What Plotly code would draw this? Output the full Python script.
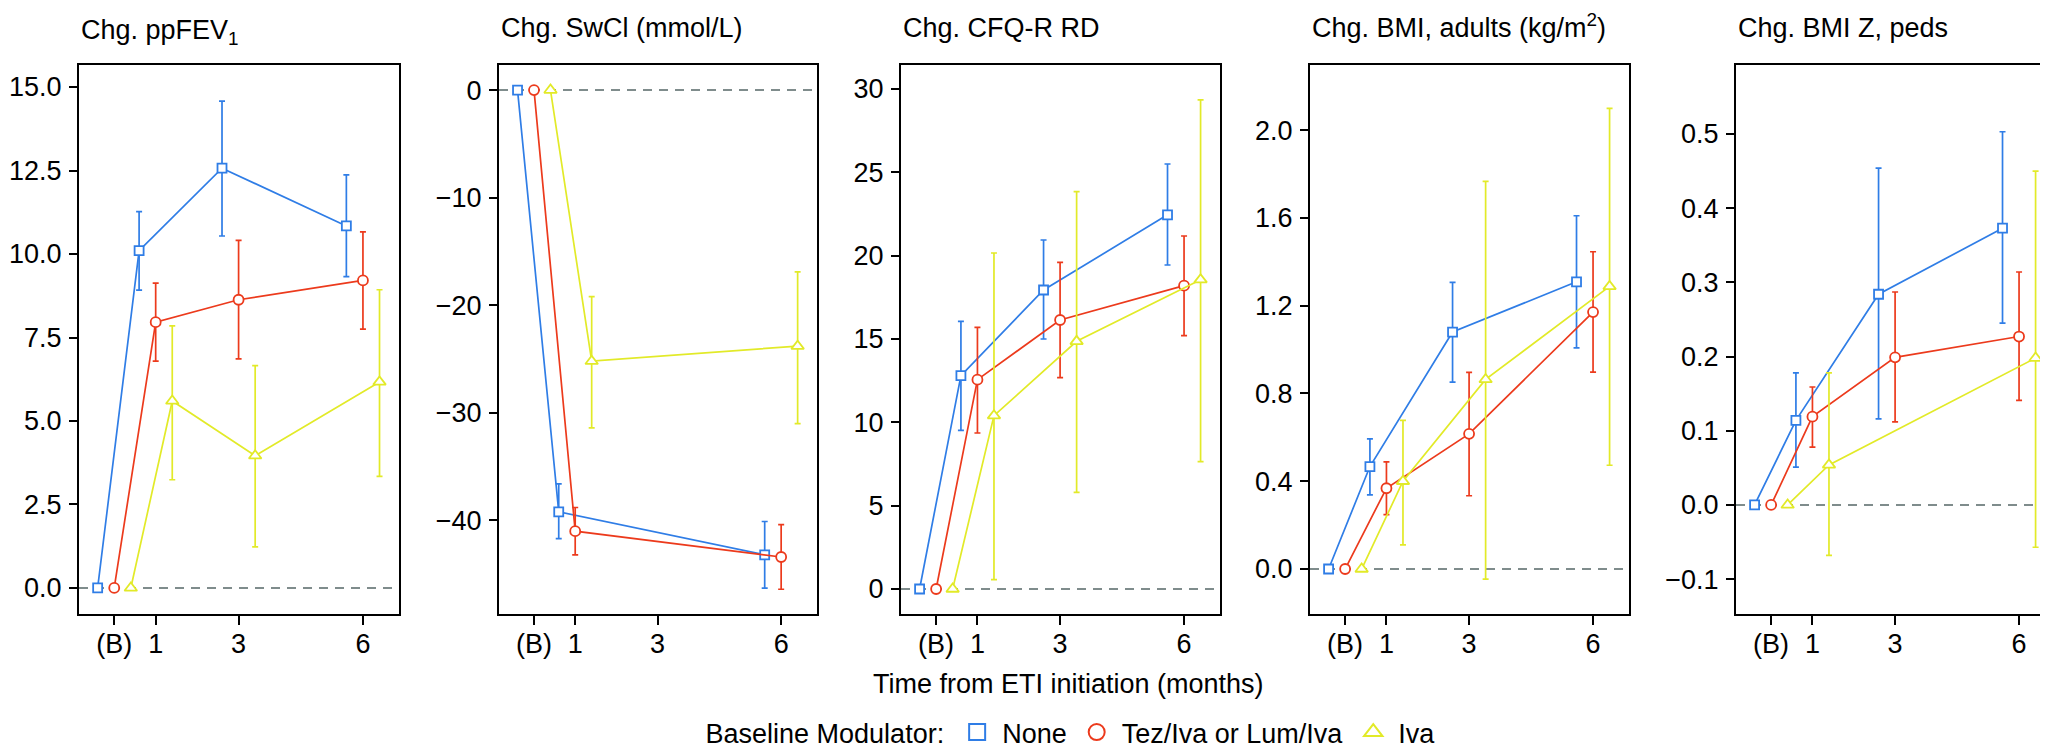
import plotly.graph_objects as go

# ---------------- data ----------------
times = [0, 1, 3, 6]
time_labels = ["(B)", "1", "3", "6"]
groups = ["None", "Tez/Iva or Lum/Iva", "Iva"]

panel_titles = [
    "Chg. ppFEV<sub>1</sub>",
    "Chg. SwCl (mmol/L)",
    "Chg. CFQ-R RD",
    "Chg. BMI, adults (kg/m<sup>2</sup>)",
    "Chg. BMI Z, peds",
]
x_title = "Time from ETI initiation (months)"
legend_title = "Baseline Modulator:"

# Panel 1: ppFEV1
fev_none = [0, 10.1, 12.57, 10.84]
fev_none_lo = [None, 8.92, 10.54, 9.32]
fev_none_hi = [None, 11.27, 14.58, 12.37]
fev_tez = [0, 7.96, 8.63, 9.21]
fev_tez_lo = [None, 6.79, 6.86, 7.75]
fev_tez_hi = [None, 9.13, 10.41, 10.66]
fev_iva = [0, 5.6, 3.96, 6.17]
fev_iva_lo = [None, 3.24, 1.23, 3.34]
fev_iva_hi = [None, 7.85, 6.66, 8.93]

# Panel 2: sweat chloride (no 3-month visit)
swcl_none = [0, -39.2, None, -43.2]
swcl_none_lo = [None, -41.7, None, -46.3]
swcl_none_hi = [None, -36.6, None, -40.1]
swcl_tez = [0, -41.0, None, -43.4]
swcl_tez_lo = [None, -43.2, None, -46.4]
swcl_tez_hi = [None, -38.8, None, -40.4]
swcl_iva = [0, -25.2, None, -23.8]
swcl_iva_lo = [None, -31.4, None, -31.0]
swcl_iva_hi = [None, -19.2, None, -16.9]

# Panel 3: CFQ-R respiratory domain
cfq_none = [0, 12.8, 17.94, 22.45]
cfq_none_lo = [None, 9.52, 15.0, 19.44]
cfq_none_hi = [None, 16.06, 20.94, 25.5]
cfq_tez = [0, 12.56, 16.14, 18.2]
cfq_tez_lo = [None, 9.36, 12.68, 15.2]
cfq_tez_hi = [None, 15.7, 19.6, 21.18]
cfq_iva = [0, 10.4, 14.86, 18.56]
cfq_iva_lo = [None, 0.56, 5.8, 7.64]
cfq_iva_hi = [None, 20.16, 23.84, 29.35]

# Panel 4: BMI adults
bmi_none = [0, 0.467, 1.08, 1.309]
bmi_none_lo = [None, 0.338, 0.852, 1.008]
bmi_none_hi = [None, 0.593, 1.306, 1.61]
bmi_tez = [0, 0.368, 0.616, 1.171]
bmi_tez_lo = [None, 0.248, 0.334, 0.897]
bmi_tez_hi = [None, 0.488, 0.896, 1.446]
bmi_iva = [0, 0.40, 0.864, 1.288]
bmi_iva_lo = [None, 0.11, -0.046, 0.473]
bmi_iva_hi = [None, 0.677, 1.767, 2.099]

# Panel 5: BMI Z-score peds (Iva: no 3-month value)
bmiz_none = [0, 0.114, 0.284, 0.373]
bmiz_none_lo = [None, 0.051, 0.116, 0.245]
bmiz_none_hi = [None, 0.178, 0.454, 0.503]
bmiz_tez = [0, 0.119, 0.199, 0.227]
bmiz_tez_lo = [None, 0.078, 0.112, 0.141]
bmiz_tez_hi = [None, 0.159, 0.287, 0.314]
bmiz_iva = [0, 0.054, None, 0.198]
bmiz_iva_lo = [None, -0.068, None, -0.057]
bmiz_iva_hi = [None, 0.178, None, 0.45]

panels = [
    [(fev_none, fev_none_lo, fev_none_hi), (fev_tez, fev_tez_lo, fev_tez_hi), (fev_iva, fev_iva_lo, fev_iva_hi)],
    [(swcl_none, swcl_none_lo, swcl_none_hi), (swcl_tez, swcl_tez_lo, swcl_tez_hi), (swcl_iva, swcl_iva_lo, swcl_iva_hi)],
    [(cfq_none, cfq_none_lo, cfq_none_hi), (cfq_tez, cfq_tez_lo, cfq_tez_hi), (cfq_iva, cfq_iva_lo, cfq_iva_hi)],
    [(bmi_none, bmi_none_lo, bmi_none_hi), (bmi_tez, bmi_tez_lo, bmi_tez_hi), (bmi_iva, bmi_iva_lo, bmi_iva_hi)],
    [(bmiz_none, bmiz_none_lo, bmiz_none_hi), (bmiz_tez, bmiz_tez_lo, bmiz_tez_hi), (bmiz_iva, bmiz_iva_lo, bmiz_iva_hi)],
]

# ---------------- style ----------------
W, H = 2048, 756
FONT = "Liberation Sans, Arial, Helvetica, sans-serif"
FS = 27
colors = ["#2f7de6", "#ec3a1c", "#e2ea28"]
symbols = ["square", "circle", "triangle-up"]
msizes = [9, 10, 11]
dodge = [-0.4, 0.0, 0.4]

panel_px = [(71, 391), (491, 809), (893, 1212), (1302, 1621), (1728, 2047)]
title_bottom_px = [43, 37, 37, 37, 37]
y_top_px, y_bot_px = 57, 606
y_ranges = [(-0.78, 15.66), (-48.7, 2.33), (-1.5, 31.44), (-0.205, 2.297), (-0.147, 0.593)]
y_dticks = [2.5, 10, 5, 0.4, 0.1]
y_formats = [".1f", "d", "d", ".1f", ".1f"]
x_range = (-0.85, 6.87)

fig = go.Figure()

for p, series in enumerate(panels):
    xa = "x" if p == 0 else f"x{p+1}"
    ya = "y" if p == 0 else f"y{p+1}"
    for g, (vals, lo, hi) in enumerate(series):
        xs = [t + dodge[g] for t in times]
        plus = [None if (v is None or h is None) else h - v for v, h in zip(vals, hi)]
        minus = [None if (v is None or l is None) else v - l for v, l in zip(vals, lo)]
        fig.add_trace(go.Scatter(
            x=xs, y=vals, xaxis=xa, yaxis=ya,
            mode="lines+markers", connectgaps=True,
            line=dict(color=colors[g], width=1.7),
            marker=dict(symbol=symbols[g], size=msizes[g], color="white",
                        line=dict(color=colors[g], width=1.8)),
            error_y=dict(type="data", symmetric=False, array=plus, arrayminus=minus,
                         color=colors[g], thickness=1.7, width=3),
            showlegend=False, hoverinfo="skip",
        ))

# legend-only entries
for g in range(3):
    fig.add_trace(go.Scatter(
        x=[None], y=[None], mode="markers", name=groups[g],
        marker=dict(symbol=symbols[g], size=18, color="white",
                    line=dict(color=colors[g], width=2)),
        showlegend=True,
    ))

axis_common = dict(
    showline=True, linecolor="black", linewidth=2, mirror=True,
    ticks="outside", ticklen=8, tickwidth=2, tickcolor="black",
    showgrid=False, zeroline=False,
    tickfont=dict(family=FONT, size=FS, color="black"),
)

layout = dict(
    width=W, height=H,
    margin=dict(l=0, r=0, t=0, b=0, autoexpand=False),
    paper_bgcolor="white", plot_bgcolor="white",
    font=dict(family=FONT, size=FS, color="black"),
    showlegend=True,
    legend=dict(
        orientation="h", x=1064 / W, xanchor="center", y=1 - 700 / H, yanchor="top",
        title=dict(text=legend_title, side="left", font=dict(size=FS)),
        font=dict(size=FS), bgcolor="rgba(0,0,0,0)", itemclick=False,
        itemwidth=40,
    ),
)

shapes = []
annotations = []
ydom = [1 - y_bot_px / H, 1 - y_top_px / H]
for p in range(5):
    sfx = "" if p == 0 else str(p + 1)
    x0, x1 = panel_px[p]
    layout["xaxis" + sfx] = dict(
        axis_common, domain=[x0 / W, x1 / W], anchor="y" + sfx,
        range=list(x_range), tickvals=times, ticktext=time_labels,
        ticklen=9, ticklabelstandoff=-4,
    )
    layout["yaxis" + sfx] = dict(
        axis_common, domain=ydom, anchor="x" + sfx,
        range=list(y_ranges[p]), dtick=y_dticks[p], tick0=0,
        tickformat=y_formats[p], ticklabelstandoff=2,
    )
    shapes.append(dict(
        type="line", xref=f"x{sfx} domain", x0=0, x1=1,
        yref="y" + sfx, y0=0, y1=0, layer="below",
        line=dict(color="#7f8c8c", width=2, dash="9px,7px"),
    ))
    annotations.append(dict(
        text=panel_titles[p], xref="paper", yref="paper",
        x=x0 / W, y=1 - title_bottom_px[p] / H, xanchor="left", yanchor="bottom",
        showarrow=False, font=dict(family=FONT, size=FS, color="black"),
    ))

annotations.append(dict(
    text=x_title, xref="paper", yref="paper", x=1060 / W, y=1 - 676 / H,
    xanchor="center", yanchor="middle", showarrow=False,
    font=dict(family=FONT, size=FS, color="black"),
))

layout["shapes"] = shapes
layout["annotations"] = annotations
fig.update_layout(**layout)

fig.write_html("out.html")
